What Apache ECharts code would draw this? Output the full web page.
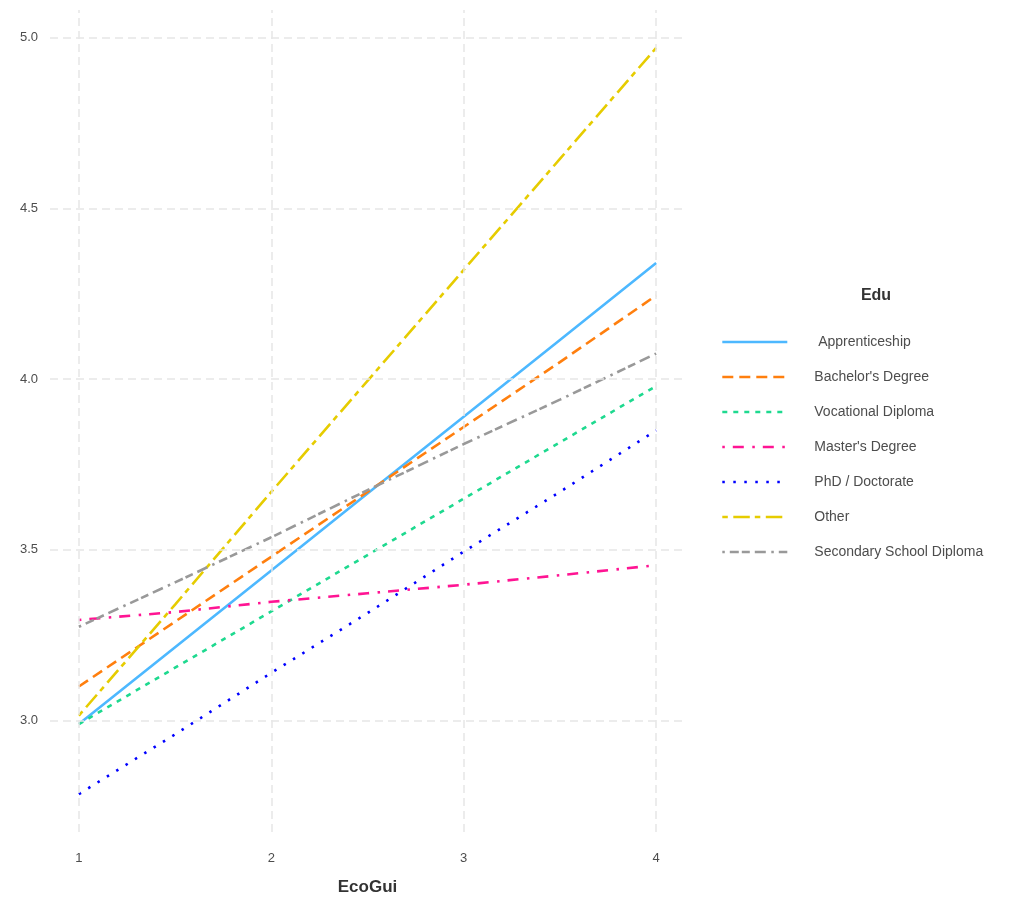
<!DOCTYPE html>
<html>
<head>
<meta charset="utf-8">
<title>EcoGui by Edu</title>
<script src="https://cdn.jsdelivr.net/npm/echarts@6/dist/echarts.min.js"></script>
<style>
  html, body { margin: 0; padding: 0; background: #ffffff; }
  #chart { width: 1023px; height: 901px; }
</style>
</head>
<body>
<div id="chart"></div>
<script>
// Predicted values along EcoGui for each education group
const ecoGui = [1, 1.5, 2, 2.5, 3, 3.5, 4];
const apprenticeship = [2.99, 3.215, 3.44, 3.665, 3.89, 4.115, 4.34];
const bachelors = [3.10, 3.29, 3.48, 3.67, 3.86, 4.05, 4.245];
const vocational = [2.99, 3.155, 3.32, 3.485, 3.65, 3.815, 3.98];
const masters = [3.295, 3.318, 3.348, 3.373, 3.398, 3.426, 3.455];
const phd = [2.785, 2.96, 3.14, 3.315, 3.495, 3.67, 3.85];
const other = [3.015, 3.34, 3.67, 3.995, 4.32, 4.645, 4.97];
const secondary = [3.275, 3.405, 3.537, 3.675, 3.81, 3.94, 4.075];

const groupNames = [' Apprenticeship', "Bachelor's Degree", 'Vocational Diploma',
  "Master's Degree", 'PhD / Doctorate', 'Other', 'Secondary School Diploma'];
const xTicks = [1, 2, 3, 4];
const yTicks = [3.0, 3.5, 4.0, 4.5, 5.0];

const groupValues = [apprenticeship, bachelors, vocational, masters, phd, other, secondary];
const groupColors = ['#4db8ff', '#ff7f0e', '#1ed98f', '#ff1493', '#0000ff', '#e6cc00', '#999999'];
const groupDashes = [
  'solid',
  [11, 6],
  [5, 6],
  [2.5, 8, 11, 8.5],
  [2.5, 8.5],
  [5.5, 5.5, 16.5, 5],
  [2.5, 5, 9, 3, 8, 5, 11, 5.5]
];

const textColor = '#4d4d4d';
const gridColor = '#e6e6e6';

const series = groupNames.map((name, i) => ({
  name: name,
  type: 'line',
  data: ecoGui.map((x, j) => [x, groupValues[i][j]]),
  showSymbol: false,
  symbol: 'none',
  smooth: false,
  color: groupColors[i],
  lineStyle: { color: groupColors[i], width: 2.6, type: groupDashes[i] },
  emphasis: { disabled: true },
  z: 3
}));

// background reference lines at the tick positions
series.push({
  name: 'grid',
  type: 'line',
  data: [],
  silent: true,
  z: 1,
  markLine: {
    silent: true,
    symbol: ['none', 'none'],
    label: { show: false },
    lineStyle: { color: gridColor, width: 1.5, type: [8, 5] },
    emphasis: { disabled: true },
    data: xTicks.map(v => ({ xAxis: v })).concat(yTicks.map(v => ({ yAxis: v })))
  }
});

const chart = echarts.init(document.getElementById('chart'), null, { renderer: 'canvas' });
chart.setOption({
  animation: false,
  backgroundColor: '#ffffff',
  textStyle: { fontFamily: 'Liberation Sans, Arial, sans-serif' },
  title: {
    text: 'Edu',
    left: 871,
    top: 283,
    textAlign: 'center',
    textStyle: { fontSize: 16, fontWeight: 'bold', color: '#333333', fontFamily: 'Liberation Sans, Arial, sans-serif' }
  },
  grid: { left: 50, right: 338, top: 10, bottom: 69, containLabel: false },
  xAxis: {
    type: 'value',
    min: 0.85,
    max: 4.15,
    name: 'EcoGui',
    nameLocation: 'middle',
    nameGap: 47,
    nameTextStyle: { fontSize: 17, fontWeight: 'bold', color: '#333333' },
    axisLine: { show: false },
    axisTick: { show: false, customValues: xTicks },
    splitLine: { show: false },
    axisLabel: { customValues: xTicks, color: textColor, fontSize: 13, margin: 20, formatter: v => String(v) }
  },
  yAxis: {
    type: 'value',
    min: 2.674,
    max: 5.081,
    axisLine: { show: false },
    axisTick: { show: false, customValues: yTicks },
    splitLine: { show: false },
    axisLabel: { customValues: yTicks, color: textColor, fontSize: 13, margin: 12, formatter: v => v.toFixed(1) }
  },
  legend: {
    data: groupNames,
    orient: 'vertical',
    left: 716,
    top: 330,
    itemWidth: 65,
    itemHeight: 14,
    itemGap: 21,
    selectedMode: false,
    itemStyle: { opacity: 0 },
    lineStyle: { width: 2.6 },
    textStyle: { color: textColor, fontSize: 14, padding: [0, 0, 0, 22] }
  },
  series: series
});
</script>
</body>
</html>
